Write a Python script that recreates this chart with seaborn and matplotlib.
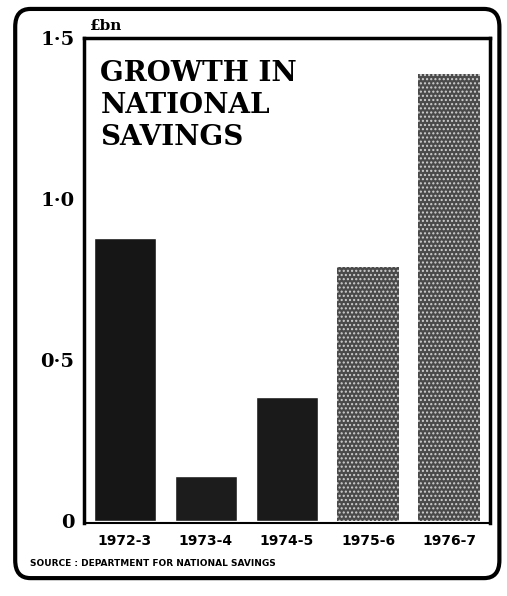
import matplotlib
matplotlib.use("Agg")
import matplotlib.pyplot as plt
import seaborn as sns
from matplotlib.patches import FancyBboxPatch

years = ["1972-3", "1973-4", "1974-5", "1975-6", "1976-7"]
savings = [0.88, 0.14, 0.385, 0.79, 1.39]
bar_colors = ["#161616", "#1c1c1c", "#1a1a1a", "#4a4a4a", "#4a4a4a"]
ytick_vals = [0, 0.5, 1.0, 1.5]
ytick_labels = ["0", "0·5", "1·0", "1·5"]

sns.set_style("white")
plt.rcParams["font.family"] = ["DejaVu Serif"]
plt.rcParams["text.color"] = "black"
plt.rcParams["xtick.color"] = "black"
plt.rcParams["ytick.color"] = "black"
plt.rcParams["hatch.linewidth"] = 1.0

fig = plt.figure(figsize=(5.07, 5.96), dpi=100)
ax = fig.add_axes([0.166, 0.1225, 0.80, 0.8135])

sns.barplot(x=years, y=savings, hue=years, palette=bar_colors, legend=False,
            width=0.76, saturation=1, ax=ax)
for i, p in enumerate(ax.patches):
    if i >= 3:
        p.set_hatch("....")
        p.set_edgecolor("#d0d0d0")
        p.set_linewidth(0)

ax.set_xlim(-0.5, 4.5)
ax.set_ylim(-0.005, 1.5)
ax.set_yticks(ytick_vals)
ax.set_yticklabels(ytick_labels, fontsize=14, fontweight="bold", color="black")
ax.tick_params(axis="y", length=6, width=2, direction="inout", pad=4)
ax.tick_params(axis="x", length=0, pad=8)
for lab in ax.get_xticklabels():
    lab.set_fontsize(10)
    lab.set_fontweight("bold")
    lab.set_family("DejaVu Sans")
    lab.set_color("black")
for s in ["left", "top", "right"]:
    ax.spines[s].set_linewidth(2.5)
    ax.spines[s].set_color("black")
ax.spines["bottom"].set_linewidth(1.5)
ax.spines["bottom"].set_color("black")
ax.set_xlabel("")
ax.set_ylabel("")

ax.text(0.04, 0.955, "GROWTH IN\nNATIONAL\nSAVINGS", transform=ax.transAxes,
        fontsize=20, fontweight="black", va="top", ha="left", linespacing=1.25,
        family="DejaVu Serif", color="black")
fig.text(0.178, 0.944, "£bn", fontsize=11, fontweight="bold", va="bottom",
         ha="left", color="black")
fig.text(0.06, 0.055, "SOURCE : DEPARTMENT FOR NATIONAL SAVINGS", fontsize=6.5,
         fontweight="bold", family="DejaVu Sans", va="center", ha="left",
         color="black")

border = FancyBboxPatch((0.03, 0.03), 0.955, 0.955, transform=fig.transFigure,
                        boxstyle="round,pad=0,rounding_size=0.03",
                        fill=False, linewidth=3, edgecolor="black")
fig.patches.append(border)

fig.savefig("out.png", dpi=100, facecolor="white")
